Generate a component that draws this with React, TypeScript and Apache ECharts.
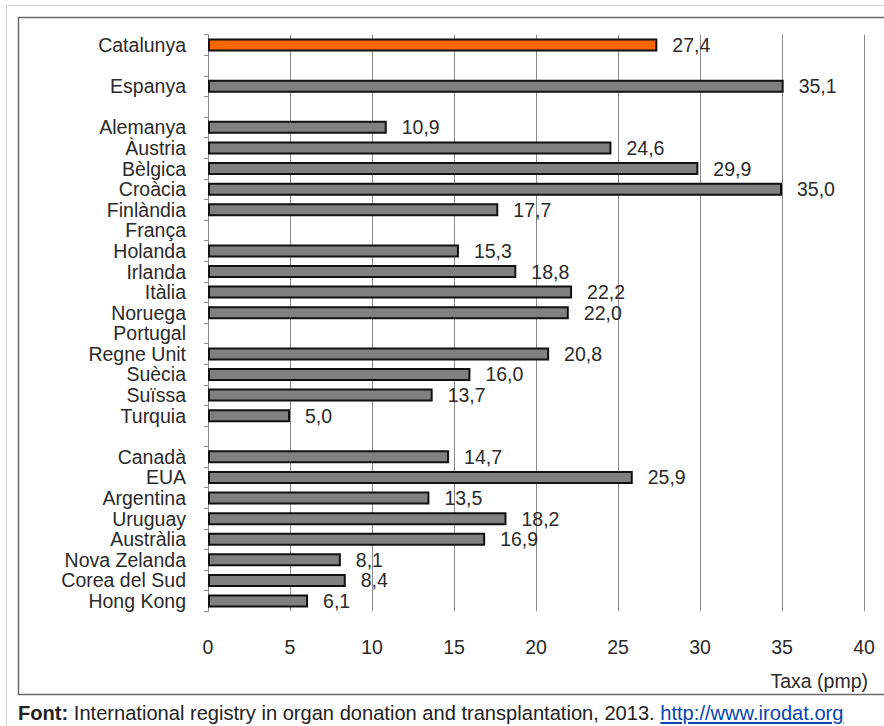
import React, { useEffect, useRef } from "react";
import * as echarts from "echarts";

const categories = [
  "Catalunya", " ", "Espanya", "  ", "Alemanya", "Àustria", "Bèlgica", "Croàcia",
  "Finlàndia", "França", "Holanda", "Irlanda", "Itàlia", "Noruega", "Portugal",
  "Regne Unit", "Suècia", "Suïssa", "Turquia", "   ", "Canadà", "EUA", "Argentina",
  "Uruguay", "Austràlia", "Nova Zelanda", "Corea del Sud", "Hong Kong",
];
const values: (number | null)[] = [
  27.4, null, 35.1, null, 10.9, 24.6, 29.9, 35.0,
  17.7, null, 15.3, 18.8, 22.2, 22.0, null,
  20.8, 16.0, 13.7, 5.0, null, 14.7, 25.9, 13.5,
  18.2, 16.9, 8.1, 8.4, 6.1,
];
const highlight = "Catalunya";
const xTicks = [0, 5, 10, 15, 20, 25, 30, 35, 40];
const axisName = "Taxa (pmp)";

const FONT = "'Liberation Sans', Arial, sans-serif";
const FS = 19.5;

export default function App() {
  const ref = useRef<HTMLDivElement>(null);
  useEffect(() => {
    document.body.style.margin = "0";
    const chart = echarts.init(ref.current!, null, { renderer: "svg" });
    const data = values.map((v, i) => ({
      value: v,
      itemStyle: {
        color: categories[i] === highlight ? "#ff6600" : "#808080",
        borderColor: "#111",
        borderWidth: 2,
      },
    }));
    chart.setOption({
      animation: false,
      textStyle: { fontFamily: FONT },
      grid: { left: 208, right: 20, top: 34.7, bottom: 114.7, containLabel: false },
      xAxis: {
        type: "value",
        min: xTicks[0],
        max: xTicks[xTicks.length - 1],
        interval: 5,
        axisLine: { show: false },
        axisTick: { show: false },
        axisLabel: { color: "#2a2a2a", fontSize: FS, margin: 26, fontFamily: FONT },
        splitLine: { show: true, lineStyle: { color: "#8a8a8a", width: 1 } },
      },
      yAxis: {
        type: "category",
        data: categories,
        inverse: true,
        axisLine: { show: true, lineStyle: { color: "#8a8a8a", width: 1 } },
        axisTick: { show: true, interval: 0, length: 4, lineStyle: { color: "#8a8a8a" } },
        axisLabel: { color: "#2a2a2a", fontSize: FS, margin: 22, interval: 0, fontFamily: FONT },
        splitLine: { show: false },
      },
      series: [
        {
          type: "bar",
          data,
          barWidth: 13,
          label: {
            show: true,
            position: "right",
            distance: 15,
            color: "#2a2a2a",
            fontSize: FS,
            fontFamily: FONT,
            formatter: (p: any) => (p.value == null ? "" : Number(p.value).toFixed(1).replace(".", ",")),
          },
        },
      ],
      graphic: [
        {
          type: "rect",
          shape: { x: 6.5, y: 5.5, width: 900, height: 760 },
          style: { fill: "none", stroke: "#d4d4d4", lineWidth: 1 },
          silent: true,
          z: -10,
        },
        {
          type: "rect",
          shape: { x: 18.5, y: 17.5, width: 900, height: 677 },
          style: { fill: "none", stroke: "#6a6a6a", lineWidth: 1.5 },
          silent: true,
          z: -9,
        },
        {
          type: "text",
          x: 868,
          y: 681,
          style: {
            text: axisName,
            fill: "#2a2a2a",
            font: `${FS}px ${FONT}`,
            align: "right",
            verticalAlign: "middle",
          },
        },
      ],
    });
    return () => chart.dispose();
  }, []);
  return (
    <div style={{ position: "relative", width: 884, height: 726, background: "#fff" }}>
      <div ref={ref} style={{ position: "absolute", left: 0, top: 0, width: 884, height: 726 }} />
      <div
        style={{
          position: "absolute",
          left: 18,
          top: 701,
          fontFamily: FONT,
          fontSize: 20.1,
          lineHeight: "24px",
          color: "#222",
          whiteSpace: "nowrap",
        }}
      >
        <b>Font:</b> International registry in organ donation and transplantation, 2013.{" "}
        <a href="http://www.irodat.org" style={{ color: "#0645ad" }}>
          http://www.irodat.org
        </a>
      </div>
    </div>
  );
}
